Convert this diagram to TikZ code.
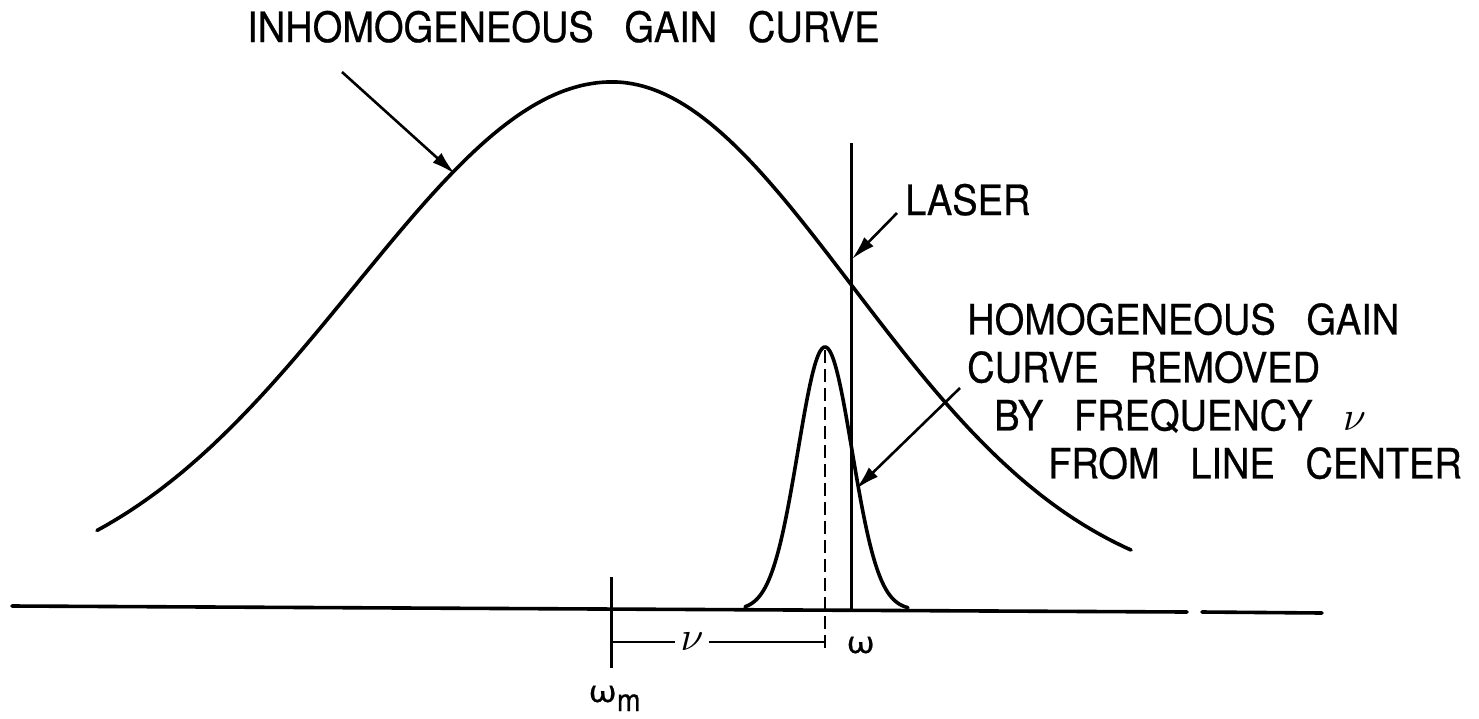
\documentclass[tikz,border=0pt]{standalone}
\usepackage{fontspec}
\usepackage{graphicx}
\newfontfamily\lettering[FakeStretch=0.91,WordSpace=2.9,FakeBold=0.6]{TeX Gyre Heros}
\usetikzlibrary{arrows.meta}
\newcommand{\bignu}{{\normalsize\scalebox{4.1}{$\nu$}}}
\newcommand{\wideomega}{\scalebox{1.35}[1]{ω}}
\begin{document}
\begin{tikzpicture}[x=1pt,y=-1pt,
  curve/.style={line width=3.6pt, line cap=round, line join=round},
  stem/.style={line width=3pt},
  pointer/.style={line width=2.6pt, -{Latex[length=24pt,width=13pt]}},
  dimline/.style={line width=2.4pt},
  dashline/.style={line width=2.6pt, dash pattern=on 13pt off 6pt},
  lab/.style={inner sep=0pt, font=\lettering\fontsize{41.8}{48}\selectfont},
  sym/.style={inner sep=0pt, font=\lettering\fontsize{31}{34}\selectfont}
]
\useasboundingbox (0,0) rectangle (1479,718);

% axis
\coordinate (ax1) at (12,606);
\coordinate (ax2) at (1187,612);
\coordinate (ax3) at (1202,612);
\coordinate (ax4) at (1322,613);
\draw[curve] (ax1) -- (ax2);
\draw[curve] (ax3) -- (ax4);

% inhomogeneous gain curve (two half-Gaussians)
\draw[curve] plot[domain=97:612, samples=120, smooth] (\x, {600-518*exp(-(((\x-612)/100)^2)/(2*2.57*2.57))})
  -- plot[domain=612:1131, samples=120, smooth] (\x, {600-518*exp(-(((\x-612)/100)^2)/(2*2.40*2.40))});

% homogeneous gain curve
\draw[curve] plot[domain=745:908, samples=90, smooth] (\x, {610-263*exp(-(((\x-825)/10)^2)/(2*2.7*2.7))});

% laser line
\coordinate (lasTop) at (851,143);
\coordinate (lasBot) at (851,610);
\draw[stem] (lasTop) -- (lasBot);

% dashed line at homogeneous centre
\coordinate (pk) at (825,350);
\coordinate (dashBot) at (825,652);
\draw[dashline] (pk) -- (dashBot);

% omega_m tick
\coordinate (tickTop) at (611,577);
\coordinate (tickBot) at (611,668);
\draw[stem] (tickTop) -- (tickBot);

% nu dimension
\node[inner xsep=5pt, inner ysep=0pt] (nu) at (692,642) {\bignu};
\coordinate (dimL) at (611,642);
\coordinate (dimR) at (825,642);
\draw[dimline] (dimL) -- (nu.west);
\draw[dimline] (nu.east) -- (dimR);

% omega labels
\node[sym, anchor=base west] (om) at (846,653) {\wideomega};
\node[sym, anchor=base west] (omm) at (588,702) {\wideomega\raisebox{-9pt}{m}};

% labels
\node[lab, anchor=base west] (inh) at (247,42) {INHOMOGENEOUS GAIN CURVE};
\node[lab, anchor=base west] (las) at (905,215) {LASER};
\node[lab, anchor=north west, align=left] (hom) at (967,303) {HOMOGENEOUS GAIN\\CURVE REMOVED\\\hspace*{27pt}BY FREQUENCY \bignu\\\hspace*{81pt}FROM LINE CENTER};

% pointers
\coordinate (inhS) at (342,72);
\coordinate (inhT) at (455,174);
\draw[pointer] (inhS) -- (inhT);
\coordinate (lasS) at (897,213);
\coordinate (lasT) at (852,259);
\draw[pointer] (lasS) -- (lasT);
\coordinate (homS) at (960,388);
\coordinate (homT) at (856,489);
\draw[pointer] (homS) -- (homT);
\end{tikzpicture}
\end{document}
